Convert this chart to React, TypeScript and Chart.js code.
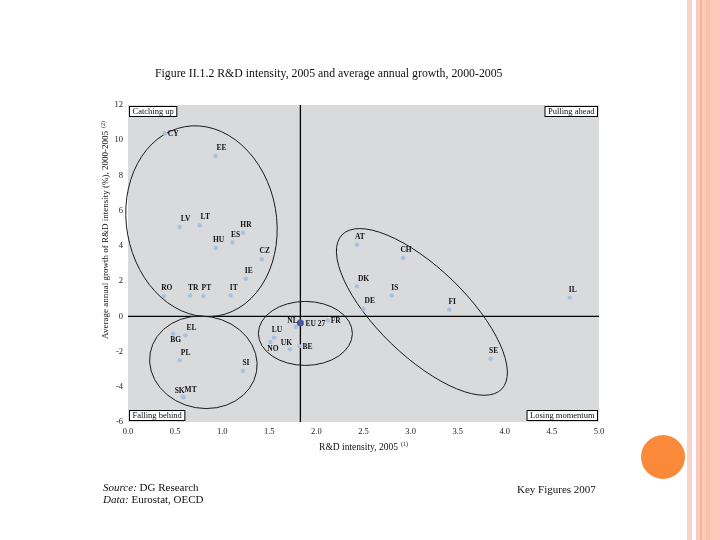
import React, { useEffect, useRef } from 'react';
import { Chart, registerables } from 'chart.js';

Chart.register(...registerables);

// ---------------- data ----------------
const countries = ['CY', 'EE', 'LV', 'LT', 'HR', 'ES', 'HU', 'CZ', 'IE', 'RO', 'TR', 'PT', 'IT', 'EL', 'BG', 'PL', 'SI', 'SK', 'MT', 'NL', 'FR', 'LU', 'NO', 'UK', 'BE', 'AT', 'CH', 'DK', 'IS', 'DE', 'FI', 'IL', 'SE'];
const rdIntensity2005 = [0.39, 0.93, 0.55, 0.76, 1.22, 1.11, 0.93, 1.42, 1.25, 0.38, 0.66, 0.8, 1.09, 0.61, 0.48, 0.55, 1.22, 0.58, 0.59, 1.78, 2.12, 1.55, 1.51, 1.72, 1.82, 2.43, 2.92, 2.43, 2.8, 2.5, 3.41, 4.69, 3.85];
const growth2000to2005 = [10.4, 9.1, 5.07, 5.17, 4.75, 4.19, 3.88, 3.24, 2.14, 1.15, 1.19, 1.15, 1.19, -1.08, -0.98, -2.5, -3.1, -4.55, -4.6, -0.6, -0.23, -1.21, -1.46, -1.87, -1.69, 4.07, 3.31, 1.7, 1.19, 0.43, 0.38, 1.06, -2.4];
const labelPlacement = ['right', 'topright', 'topright', 'topright', 'top', 'top', 'top', 'top', 'top', 'top', 'top', 'top', 'top', 'topright', 'bottom', 'topright', 'top', 'topleft', 'topright', 'topleft', 'right', 'top', 'bottom', 'topleft', 'right', 'top', 'top', 'topright', 'top', 'topright', 'top', 'top', 'top'];

const euLabel = 'EU 27';
const euIntensity = 1.83;
const euGrowth = -0.38;

const xMin = 0;
const xMax = 5;
const xStep = 0.5;
const yMin = -6;
const yMax = 12;
const yStep = 2;

const quadrantLabels = ['Catching up', 'Pulling ahead', 'Falling behind', 'Losing momentum'];
const titleText = 'Figure II.1.2 R&D intensity, 2005 and average annual growth, 2000-2005';
const xTitle = 'R&D intensity, 2005';
const xTitleNote = '(1)';
const yTitle = 'Average annual growth of R&D intensity (%), 2000-2005';
const yTitleNote = '(2)';

// group outlines: centre in data units, radii in px, rotation in degrees
const groupOutlines = [
  { cx: 0.78, cy: 5.4, rx: 75, ry: 96, rot: -10 },
  { cx: 0.8, cy: -2.61, rx: 54, ry: 46, rot: 10 },
  { cx: 1.883, cy: -0.97, rx: 47, ry: 32, rot: 0 },
  { cx: 3.12, cy: 0.25, rx: 111, ry: 44, rot: 44 },
];

const SERIF = '"Liberation Serif", "DejaVu Serif", serif';

const overlayPlugin = {
  id: 'overlay',
  beforeDraw(chart: any) {
    const { ctx, chartArea: a } = chart;
    ctx.save();
    ctx.fillStyle = '#d9dadc';
    ctx.fillRect(a.left, a.top, a.right - a.left, a.bottom - a.top);
    ctx.restore();
  },
  beforeDatasetsDraw(chart: any) {
    const { ctx, chartArea: a, scales } = chart;
    const x = scales.x;
    const y = scales.y;
    ctx.save();
    ctx.strokeStyle = '#000';
    ctx.lineWidth = 1.3;
    const vx = x.getPixelForValue(euIntensity);
    ctx.beginPath();
    ctx.moveTo(vx, a.top);
    ctx.lineTo(vx, a.bottom);
    ctx.stroke();
    const hy = y.getPixelForValue(0);
    ctx.beginPath();
    ctx.moveTo(a.left, hy);
    ctx.lineTo(a.right, hy);
    ctx.stroke();

    ctx.strokeStyle = '#1a1a1a';
    ctx.lineWidth = 1;
    groupOutlines.forEach((e) => {
      ctx.beginPath();
      ctx.ellipse(x.getPixelForValue(e.cx), y.getPixelForValue(e.cy), e.rx, e.ry, (e.rot * Math.PI) / 180, 0, Math.PI * 2);
      ctx.stroke();
    });
    ctx.restore();
  },
  afterDatasetsDraw(chart: any) {
    const { ctx, chartArea: a, scales } = chart;
    const x = scales.x;
    const y = scales.y;
    ctx.save();
    ctx.fillStyle = '#111';
    ctx.font = `bold 7.5px ${SERIF}`;
    countries.forEach((c, i) => {
      const px = x.getPixelForValue(rdIntensity2005[i]);
      const py = y.getPixelForValue(growth2000to2005[i]);
      const pos = labelPlacement[i];
      if (pos === 'top') {
        ctx.textAlign = 'center';
        ctx.textBaseline = 'bottom';
        ctx.fillText(c, px + 3, py - 4);
      } else if (pos === 'topright') {
        ctx.textAlign = 'left';
        ctx.textBaseline = 'bottom';
        ctx.fillText(c, px + 1, py - 4);
      } else if (pos === 'topleft') {
        ctx.textAlign = 'right';
        ctx.textBaseline = 'bottom';
        ctx.fillText(c, px + 2, py - 2);
      } else if (pos === 'right') {
        ctx.textAlign = 'left';
        ctx.textBaseline = 'middle';
        ctx.fillText(c, px + 3, py + 1);
      } else if (pos === 'bottom') {
        ctx.textAlign = 'left';
        ctx.textBaseline = 'top';
        ctx.fillText(c, px - 3, py + 3);
      }
    });
    // EU label
    const ex = x.getPixelForValue(euIntensity);
    const ey = y.getPixelForValue(euGrowth);
    ctx.textAlign = 'left';
    ctx.textBaseline = 'middle';
    ctx.fillText(euLabel, ex + 5, ey + 1);

    // quadrant boxes
    ctx.font = `8.5px ${SERIF}`;
    ctx.textBaseline = 'middle';
    ctx.textAlign = 'left';
    const bh = 10;
    quadrantLabels.forEach((q, i) => {
      const w = ctx.measureText(q).width + 6;
      const bx = i % 2 === 0 ? a.left + 1.5 : a.right - 1.5 - w;
      const by = i < 2 ? a.top + 1.5 : a.bottom - 1.5 - bh;
      ctx.fillStyle = '#fff';
      ctx.fillRect(bx, by, w, bh);
      ctx.strokeStyle = '#000';
      ctx.lineWidth = 1;
      ctx.strokeRect(bx, by, w, bh);
      ctx.fillStyle = '#111';
      ctx.fillText(q, bx + 3, by + bh / 2 + 0.5);
    });

    // axis titles
    ctx.fillStyle = '#111';
    ctx.font = `9.5px ${SERIF}`;
    ctx.textBaseline = 'middle';
    ctx.textAlign = 'left';
    const xw = ctx.measureText(xTitle).width;
    ctx.font = `6px ${SERIF}`;
    const xnw = ctx.measureText(xTitleNote).width;
    const xStart = (a.left + a.right) / 2 - (xw + 3 + xnw) / 2;
    ctx.font = `9.5px ${SERIF}`;
    ctx.fillText(xTitle, xStart, 447);
    ctx.font = `6px ${SERIF}`;
    ctx.fillText(xTitleNote, xStart + xw + 3, 444);

    ctx.save();
    ctx.translate(106, 230);
    ctx.rotate(-Math.PI / 2);
    ctx.font = `9px ${SERIF}`;
    const yw = ctx.measureText(yTitle).width;
    ctx.font = `6px ${SERIF}`;
    const ynw = ctx.measureText(yTitleNote).width;
    const yStart = -(yw + 3 + ynw) / 2;
    ctx.font = `9px ${SERIF}`;
    ctx.fillText(yTitle, yStart, 0);
    ctx.font = `6px ${SERIF}`;
    ctx.fillText(yTitleNote, yStart + yw + 3, -3);
    ctx.restore();

    ctx.restore();
  },
};

export default function App() {
  const canvasRef = useRef<HTMLCanvasElement | null>(null);

  useEffect(() => {
    if (!canvasRef.current) return;
    const points = countries.map((c, i) => ({ x: rdIntensity2005[i], y: growth2000to2005[i] }));
    const chart = new Chart(canvasRef.current, {
      type: 'scatter',
      data: {
        datasets: [
          {
            label: 'Countries',
            data: points,
            pointRadius: 2.2,
            pointBackgroundColor: '#a7c1e2',
            pointBorderWidth: 0,
          },
          {
            label: euLabel,
            data: [{ x: euIntensity, y: euGrowth }],
            pointRadius: 3.5,
            pointBackgroundColor: '#4b5a9e',
            pointBorderWidth: 0,
          },
        ],
      },
      options: {
        animation: false,
        responsive: false,
        layout: { padding: { left: 100, top: 105, right: 121, bottom: 78 } },
        plugins: {
          legend: { display: false },
          tooltip: { enabled: false },
          title: { display: false },
        },
        scales: {
          x: {
            type: 'linear',
            min: xMin,
            max: xMax,
            grid: { display: false, drawTicks: false },
            border: { display: false },
            ticks: {
              stepSize: xStep,
              padding: 5,
              color: '#222',
              font: { family: SERIF, size: 8.5 },
              callback: (v: any) => Number(v).toFixed(1),
            },
            afterFit: (s: any) => {
              s.height = 40;
            },
          },
          y: {
            type: 'linear',
            min: yMin,
            max: yMax,
            grid: { display: false, drawTicks: false },
            border: { display: false },
            ticks: {
              stepSize: yStep,
              padding: 5,
              color: '#222',
              font: { family: SERIF, size: 8.5 },
            },
            afterFit: (s: any) => {
              s.width = 28;
            },
          },
        },
      },
      plugins: [overlayPlugin],
    });
    return () => chart.destroy();
  }, []);

  const serif = '"Liberation Serif", "DejaVu Serif", serif';
  return (
    <div style={{ position: 'fixed', left: 0, top: 0, width: 720, height: 540, background: '#fff', overflow: 'hidden', fontFamily: serif }}>
      <canvas ref={canvasRef} width={720} height={540} style={{ position: 'absolute', left: 0, top: 0, width: 720, height: 540 }} />
      <div style={{ position: 'absolute', left: 155, top: 66, fontSize: 11.8, lineHeight: '14px', color: '#111', whiteSpace: 'nowrap' }}>{titleText}</div>
      <div style={{ position: 'absolute', left: 103, top: 481, fontSize: 11, lineHeight: '12px', color: '#111', whiteSpace: 'nowrap' }}>
        <div><i>Source:</i> DG Research</div>
        <div><i>Data:</i> Eurostat, OECD</div>
      </div>
      <div style={{ position: 'absolute', left: 517, top: 483, fontSize: 11, lineHeight: '12px', color: '#111', whiteSpace: 'nowrap' }}>Key Figures 2007</div>
      <div style={{ position: 'absolute', left: 687, top: 0, width: 5, height: 540, background: '#fbd3c4' }} />
      <div style={{ position: 'absolute', left: 696, top: 0, width: 24, height: 540, background: '#fccab8' }} />
      <div style={{ position: 'absolute', left: 700, top: 0, width: 2, height: 540, background: '#f4b29c' }} />
      <div style={{ position: 'absolute', left: 706, top: 0, width: 4, height: 540, background: '#fbc0aa' }} />
      <div style={{ position: 'absolute', left: 641, top: 435, width: 44, height: 44, borderRadius: '50%', background: '#fa8a3a' }} />
    </div>
  );
}
